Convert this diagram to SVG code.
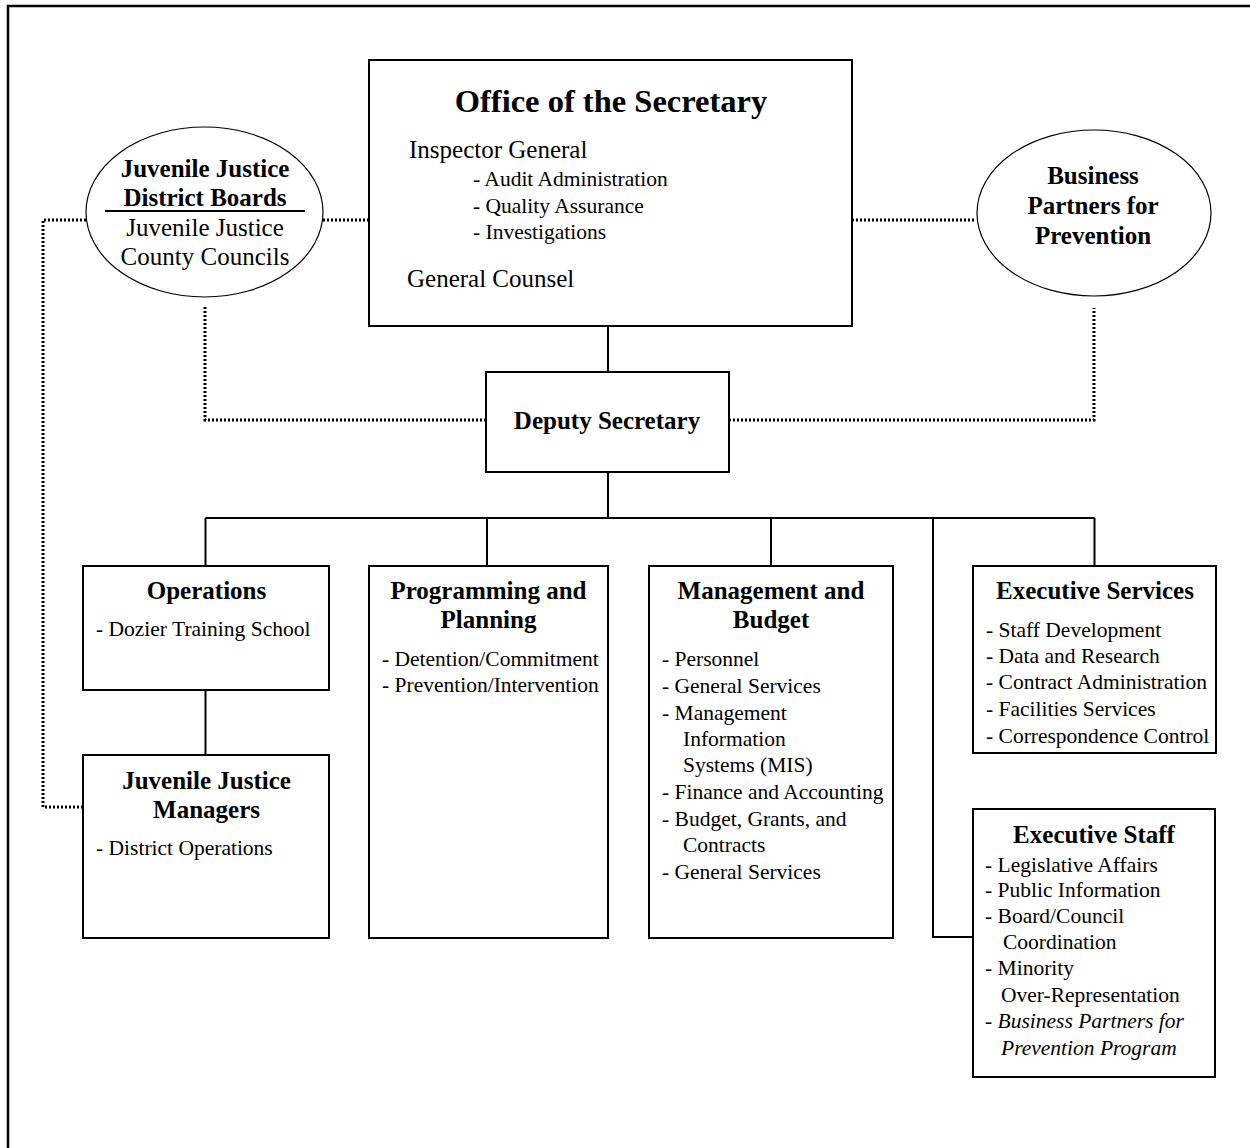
<svg xmlns="http://www.w3.org/2000/svg" width="1250" height="1148" viewBox="0 0 1250 1148">
<style>
text{font-family:"Liberation Serif","Times New Roman",serif;fill:#000}
.title{font-size:32.5px;font-weight:bold;text-anchor:middle}
.h{font-size:25px;font-weight:bold;text-anchor:middle}
.r{font-size:25px}
.rc{font-size:25px;text-anchor:middle}
.i{font-size:21.5px}
.box{fill:#fff;stroke:#000;stroke-width:2}
.ell{fill:#fff;stroke:#000;stroke-width:1.2}
.solid{fill:none;stroke:#000;stroke-width:2}
.dot{fill:none;stroke:#000;stroke-width:3;stroke-dasharray:2 2}
.frame{fill:none;stroke:#000;stroke-width:2.5}
</style>
<rect width="1250" height="1148" fill="#fff"/>
<path class="frame" d="M8,1148 V6 H1250"/>

<g id="connectors">
<path class="solid" d="M608,326 V372"/>
<path class="solid" d="M608,472 V518"/>
<path class="solid" d="M205.5,518 H1094.5"/>
<path class="solid" d="M205.5,518 V566"/>
<path class="solid" d="M487,518 V566"/>
<path class="solid" d="M771,518 V566"/>
<path class="solid" d="M1094.5,518 V566"/>
<path class="solid" d="M933,518 V937 H973"/>
<path class="solid" d="M205.5,690 V755"/>
<path class="dot" d="M83,807 H43 V220 H86"/>
<path class="dot" d="M323,220 H369"/>
<path class="dot" d="M852,220 H976"/>
<path class="dot" d="M205,307 V420 H486"/>
<path class="dot" d="M729,420 H1094 V308"/>
</g>

<g id="office">
<rect class="box" x="369" y="60" width="483" height="266"/>
<text class="title" x="611" y="112">Office of the Secretary</text>
<text class="r" x="409" y="158">Inspector General</text>
<text class="i" x="473" y="186">- Audit Administration</text>
<text class="i" x="473" y="213">- Quality Assurance</text>
<text class="i" x="473" y="239">- Investigations</text>
<text class="r" x="407" y="287">General Counsel</text>
</g>

<g id="jj-boards">
<ellipse class="ell" cx="204.5" cy="212" rx="118.5" ry="85"/>
<text class="h" x="205" y="177">Juvenile Justice</text>
<text class="h" x="205" y="206">District Boards</text>
<path d="M105,211 H305" stroke="#000" stroke-width="2"/>
<text class="rc" x="205" y="236">Juvenile Justice</text>
<text class="rc" x="205" y="265">County Councils</text>
</g>

<g id="bpp">
<ellipse class="ell" cx="1094" cy="213" rx="117" ry="83"/>
<text class="h" x="1093" y="184">Business</text>
<text class="h" x="1093" y="214">Partners for</text>
<text class="h" x="1093" y="244">Prevention</text>
</g>

<g id="deputy">
<rect class="box" x="486" y="372" width="243" height="100"/>
<text class="h" x="607" y="429">Deputy Secretary</text>
</g>

<g id="operations">
<rect class="box" x="83" y="566" width="246" height="124"/>
<text class="h" x="206.5" y="599">Operations</text>
<text class="i" x="96" y="636">- Dozier Training School</text>
</g>

<g id="jj-managers">
<rect class="box" x="83" y="755" width="246" height="183"/>
<text class="h" x="206.5" y="789">Juvenile Justice</text>
<text class="h" x="206.5" y="818">Managers</text>
<text class="i" x="96" y="855">- District Operations</text>
</g>

<g id="programming">
<rect class="box" x="369" y="566" width="239" height="372"/>
<text class="h" x="488.5" y="599">Programming and</text>
<text class="h" x="488.5" y="628">Planning</text>
<text class="i" x="382" y="666">- Detention/Commitment</text>
<text class="i" x="382" y="692">- Prevention/Intervention</text>
</g>

<g id="management">
<rect class="box" x="649" y="566" width="244" height="372"/>
<text class="h" x="771" y="599">Management and</text>
<text class="h" x="771" y="628">Budget</text>
<text class="i" x="662" y="666">- Personnel</text>
<text class="i" x="662" y="693">- General Services</text>
<text class="i" x="662" y="720">- Management</text>
<text class="i" x="683" y="746">Information</text>
<text class="i" x="683" y="772">Systems (MIS)</text>
<text class="i" x="662" y="799">- Finance and Accounting</text>
<text class="i" x="662" y="826">- Budget, Grants, and</text>
<text class="i" x="683" y="852">Contracts</text>
<text class="i" x="662" y="879">- General Services</text>
</g>

<g id="exec-services">
<rect class="box" x="973" y="566" width="243" height="187"/>
<text class="h" x="1095" y="599">Executive Services</text>
<text class="i" x="986" y="637">- Staff Development</text>
<text class="i" x="986" y="663">- Data and Research</text>
<text class="i" x="986" y="689">- Contract Administration</text>
<text class="i" x="986" y="716">- Facilities Services</text>
<text class="i" x="986" y="743">- Correspondence Control</text>
</g>

<g id="exec-staff">
<rect class="box" x="973" y="809" width="242" height="268"/>
<text class="h" x="1094" y="843">Executive Staff</text>
<text class="i" x="985" y="872">- Legislative Affairs</text>
<text class="i" x="985" y="897">- Public Information</text>
<text class="i" x="985" y="923">- Board/Council</text>
<text class="i" x="1003" y="949">Coordination</text>
<text class="i" x="985" y="975">- Minority</text>
<text class="i" x="1001" y="1002">Over-Representation</text>
<text class="i" x="985" y="1028">- <tspan font-style="italic">Business Partners for</tspan></text>
<text class="i" x="1001" y="1055" font-style="italic">Prevention Program</text>
</g>
</svg>
